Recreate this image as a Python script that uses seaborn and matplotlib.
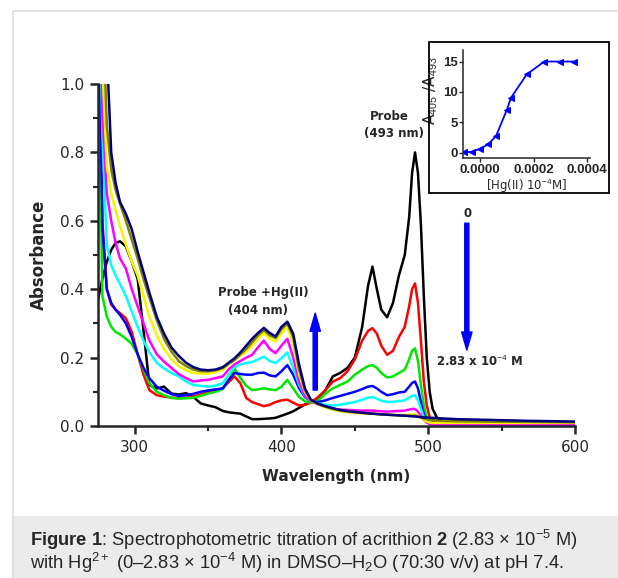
import numpy as np
import pandas as pd
import matplotlib
matplotlib.use("Agg")
import matplotlib.pyplot as plt
import seaborn as sns
from matplotlib.patches import Rectangle
from matplotlib.ticker import MultipleLocator, FormatStrFormatter

# wavelength grid (nm)
wavelength = [275, 278, 281, 284, 287, 290,
              294, 298, 302, 306, 310,
              315, 320, 325, 330, 335,
              340, 345, 350, 355, 360,
              364, 368, 372, 376, 380,
              384, 388, 392, 396, 400,
              404, 408, 412, 416, 420,
              425, 430, 435, 440, 445,
              450, 455, 459, 462, 465,
              468, 472, 476, 480, 484,
              487, 489, 491, 493, 495,
              497, 499, 501, 503, 506,
              510, 520, 540, 570, 600]

# absorbance for each Hg(II) addition (0 -> 2.83e-4 M)
abs_0 = [0.37, 0.43, 0.48, 0.515, 0.535, 0.54,
         0.525, 0.48, 0.43, 0.28, 0.12,
         0.11, 0.115, 0.095, 0.092, 0.096,
         0.085, 0.066, 0.06, 0.055, 0.044,
         0.04, 0.038, 0.036, 0.028, 0.02,
         0.02, 0.021, 0.022, 0.024, 0.03,
         0.036, 0.043, 0.053, 0.063, 0.07,
         0.077, 0.105, 0.145, 0.155, 0.17,
         0.20, 0.29, 0.41, 0.466, 0.40,
         0.34, 0.318, 0.36, 0.44, 0.50,
         0.61, 0.74, 0.80, 0.74, 0.59,
         0.38, 0.20, 0.10, 0.05, 0.024,
         0.015, 0.012, 0.01, 0.009, 0.008]
abs_1 = [1.3, 0.60, 0.40, 0.355, 0.34, 0.33,
         0.315, 0.275, 0.21, 0.15, 0.105,
         0.09, 0.086, 0.083, 0.081, 0.083,
         0.086, 0.092, 0.098, 0.104, 0.11,
         0.128, 0.145, 0.125, 0.082, 0.07,
         0.064, 0.058, 0.062, 0.07, 0.075,
         0.077, 0.068, 0.06, 0.062, 0.068,
         0.085, 0.105, 0.13, 0.14, 0.16,
         0.195, 0.25, 0.278, 0.286, 0.27,
         0.235, 0.208, 0.22, 0.26, 0.29,
         0.35, 0.40, 0.417, 0.36, 0.25,
         0.13, 0.06, 0.025, 0.012, 0.008,
         0.007, 0.006, 0.006, 0.005, 0.005]
abs_2 = [1.2, 0.38, 0.32, 0.29, 0.275, 0.268,
         0.255, 0.24, 0.21, 0.165, 0.125,
         0.1, 0.09, 0.082, 0.08, 0.081,
         0.083, 0.088, 0.095, 0.1, 0.108,
         0.133, 0.168, 0.14, 0.118, 0.105,
         0.107, 0.11, 0.107, 0.105, 0.115,
         0.135, 0.11, 0.085, 0.072, 0.068,
         0.075, 0.095, 0.11, 0.12, 0.13,
         0.15, 0.165, 0.175, 0.178, 0.17,
         0.155, 0.142, 0.145, 0.155, 0.165,
         0.195, 0.22, 0.227, 0.19, 0.12,
         0.06, 0.025, 0.01, 0.006, 0.005,
         0.005, 0.005, 0.005, 0.004, 0.004]
abs_3 = [1.4, 0.58, 0.40, 0.36, 0.34, 0.325,
         0.30, 0.26, 0.21, 0.17, 0.14,
         0.115, 0.103, 0.093, 0.088, 0.09,
         0.094, 0.1, 0.104, 0.107, 0.11,
         0.135, 0.155, 0.152, 0.15, 0.15,
         0.155, 0.156, 0.148, 0.145, 0.16,
         0.178, 0.15, 0.11, 0.085, 0.072,
         0.07, 0.075, 0.082, 0.088, 0.094,
         0.1, 0.108, 0.115, 0.117, 0.11,
         0.1, 0.09, 0.093, 0.098, 0.1,
         0.115, 0.126, 0.13, 0.11, 0.07,
         0.035, 0.015, 0.008, 0.006, 0.005,
         0.005, 0.005, 0.005, 0.004, 0.004]
abs_4 = [1.5, 0.85, 0.53, 0.47, 0.44, 0.415,
         0.38, 0.335, 0.29, 0.25, 0.215,
         0.185, 0.168, 0.155, 0.145, 0.13,
         0.12, 0.117, 0.115, 0.118, 0.125,
         0.15, 0.172, 0.18, 0.184, 0.187,
         0.195, 0.203, 0.19, 0.184, 0.198,
         0.215, 0.17, 0.12, 0.088, 0.072,
         0.066, 0.062, 0.06, 0.062, 0.066,
         0.07, 0.077, 0.083, 0.085, 0.08,
         0.074, 0.07, 0.071, 0.073, 0.075,
         0.083, 0.088, 0.09, 0.075, 0.05,
         0.025, 0.012, 0.006, 0.004, 0.004,
         0.004, 0.004, 0.004, 0.003, 0.003]
abs_5 = [1.6, 0.92, 0.68, 0.60, 0.535, 0.49,
         0.46, 0.40, 0.35, 0.30, 0.25,
         0.21, 0.188, 0.17, 0.152, 0.14,
         0.13, 0.133, 0.135, 0.14, 0.145,
         0.165, 0.18, 0.19, 0.2, 0.208,
         0.23, 0.25, 0.225, 0.213, 0.235,
         0.255, 0.2, 0.13, 0.09, 0.072,
         0.063, 0.057, 0.05, 0.048, 0.047,
         0.046, 0.045, 0.045, 0.045, 0.044,
         0.043, 0.042, 0.043, 0.044, 0.045,
         0.048, 0.05, 0.05, 0.042, 0.03,
         0.018, 0.01, 0.006, 0.004, 0.004,
         0.004, 0.004, 0.004, 0.003, 0.003]
abs_6 = [1.7, 1.05, 0.76, 0.68, 0.63, 0.585,
         0.53, 0.48, 0.44, 0.38, 0.32,
         0.265, 0.225, 0.195, 0.175, 0.163,
         0.155, 0.153, 0.153, 0.157, 0.164,
         0.18, 0.192, 0.205, 0.218, 0.235,
         0.255, 0.272, 0.255, 0.247, 0.27,
         0.29, 0.24, 0.15, 0.1, 0.074,
         0.063, 0.055, 0.048, 0.043, 0.04,
         0.038, 0.037, 0.036, 0.036, 0.035,
         0.034, 0.033, 0.033, 0.032, 0.032,
         0.033, 0.034, 0.034, 0.03, 0.024,
         0.018, 0.013, 0.01, 0.009, 0.009,
         0.009, 0.009, 0.009, 0.009, 0.009]
abs_7 = [1.9, 1.25, 0.88, 0.75, 0.69, 0.65,
         0.6, 0.545, 0.49, 0.43, 0.375,
         0.31, 0.255, 0.218, 0.19, 0.175,
         0.165, 0.16, 0.16, 0.163, 0.169,
         0.182, 0.193, 0.21, 0.225, 0.245,
         0.265, 0.28, 0.265, 0.257, 0.283,
         0.30, 0.26, 0.165, 0.105, 0.075,
         0.064, 0.056, 0.05, 0.045, 0.042,
         0.04, 0.038, 0.037, 0.036, 0.035,
         0.034, 0.033, 0.032, 0.031, 0.03,
         0.03, 0.03, 0.03, 0.028, 0.025,
         0.022, 0.02, 0.018, 0.017, 0.016,
         0.015, 0.014, 0.013, 0.012, 0.011]
abs_8 = [2.0, 1.5, 1.1, 0.80, 0.71, 0.655,
         0.62, 0.575, 0.51, 0.45, 0.39,
         0.32, 0.27, 0.23, 0.205, 0.185,
         0.172, 0.165, 0.163, 0.165, 0.172,
         0.185, 0.198, 0.215, 0.235, 0.255,
         0.272, 0.287, 0.272, 0.262, 0.29,
         0.305, 0.27, 0.18, 0.11, 0.077,
         0.065, 0.058, 0.052, 0.047, 0.044,
         0.041, 0.039, 0.037, 0.036, 0.035,
         0.034, 0.033, 0.032, 0.031, 0.03,
         0.029, 0.028, 0.028, 0.027, 0.026,
         0.025, 0.025, 0.024, 0.024, 0.023,
         0.022, 0.02, 0.018, 0.015, 0.013]

spectra = [abs_0, abs_1, abs_2, abs_3, abs_4, abs_5, abs_6, abs_7, abs_8]
steps = ['s0', 's1', 's2', 's3', 's4', 's5', 's6', 's7', 's8']
colors = ['#000000', '#ff0000', '#00e600', '#0000ff', '#00ffff',
          '#ff00ff', '#f5f500', '#808000', '#000080']

# inset: A405/A493 ratio vs [Hg(II)]
inset_hg = [-0.00006, -0.00003, 0.0, 0.00003, 0.00006, 0.0001,
            0.000116, 0.000175, 0.00024, 0.0003, 0.00035]
inset_ratio = [0.05, 0.15, 0.66, 1.37, 2.75, 7.03, 9.07, 12.9, 15.0, 15.0, 15.0]

sns.set_style("ticks")
plt.rcParams['font.family'] = ['DejaVu Sans']
plt.rcParams['mathtext.fontset'] = 'custom'
plt.rcParams['mathtext.rm'] = 'Liberation Sans'
plt.rcParams['mathtext.bf'] = 'Liberation Sans:bold'
plt.rcParams['mathtext.it'] = 'Liberation Sans:italic'

W, H = 618, 578
fig = plt.figure(figsize=(W / 100, H / 100), dpi=100)

# page frame and caption strip
fig.patches.append(Rectangle((13 / W, 0), 1.0, 62 / H, transform=fig.transFigure,
                             facecolor='#ebebeb', edgecolor='none', zorder=0))
fig.patches.append(Rectangle((13 / W, -0.05), 1.0, 1.05 - 11 / H, transform=fig.transFigure,
                             fill=False, edgecolor='#dcdcdc', lw=1.2, zorder=0))

# --- main spectra ---
ax = fig.add_axes([98 / W, 1 - 426 / H, 477 / W, 342 / H])
rows = []
for s, vals in zip(steps, spectra):
    for w, a in zip(wavelength, vals):
        rows.append((s, w, a))
df = pd.DataFrame(rows, columns=['step', 'wl', 'A'])
sns.lineplot(data=df, x='wl', y='A', hue='step', hue_order=steps, palette=colors,
             estimator=None, sort=False, lw=1.8, legend=False, ax=ax)

ax.set_xlim(275, 600)
ax.set_ylim(0, 1.0)
ax.xaxis.set_major_locator(MultipleLocator(100))
ax.xaxis.set_minor_locator(MultipleLocator(50))
ax.yaxis.set_major_locator(MultipleLocator(0.2))
ax.yaxis.set_minor_locator(MultipleLocator(0.1))
ax.yaxis.set_major_formatter(FormatStrFormatter('%.1f'))
sns.despine(ax=ax)
for sp in ['left', 'bottom']:
    ax.spines[sp].set_linewidth(1.8)
ax.tick_params(which='major', direction='out', length=6, width=1.8, labelsize=11, pad=4)
ax.tick_params(which='minor', direction='out', length=3.5, width=1.5)
ax.set_xlabel('Wavelength (nm)', fontsize=11, fontweight='bold')
ax.set_ylabel('Absorbance', fontsize=12, fontweight='bold')
ax.xaxis.set_label_coords(0.5, -0.125)
ax.yaxis.set_label_coords(-0.105, 0.5)

# annotations
ax.text(387.5, 0.389, 'Probe +Hg(II)', ha='center', va='center', fontsize=8.5, fontweight='bold')
ax.text(384, 0.339, '(404 nm)', ha='center', va='center', fontsize=8.5, fontweight='bold')
ax.text(473.3, 0.905, 'Probe', ha='center', va='center', fontsize=8.5, fontweight='bold')
ax.text(476.7, 0.854, '(493 nm)', ha='center', va='center', fontsize=8.5, fontweight='bold')
ax.text(526.7, 0.62, '0', ha='center', va='center', fontsize=8.5, fontweight='bold')
ax.text(505.3, 0.188, r'2.83 x 10$^{-4}$ M', ha='left', va='center', fontsize=8.5, fontweight='bold')

arrow_kw = dict(color='#0000ff', width=3, headwidth=7.5, headlength=13, shrink=0)
ax.annotate('', xy=(423, 0.33), xytext=(423, 0.105), arrowprops=arrow_kw)
ax.annotate('', xy=(526.3, 0.222), xytext=(526.3, 0.593), arrowprops=arrow_kw)

# --- inset ---
fig.patches.append(Rectangle((429 / W, 1 - 193 / H), 180 / W, 151 / H, transform=fig.transFigure,
                             fill=False, edgecolor='black', lw=1.3, zorder=5))
ins = fig.add_axes([463 / W, 1 - 158 / H, 127 / W, 108 / H])
ins.patch.set_alpha(0)
sns.lineplot(x=inset_hg, y=inset_ratio, ax=ins, color='#0000ff', lw=1.3,
             marker='<', markersize=4, markeredgecolor='#0000ff')
ins.set_xlim(-0.0000636, 0.000411)
ins.set_ylim(-0.87, 16.9)
ins.set_xticks([0, 0.0002, 0.0004])
ins.xaxis.set_major_formatter(FormatStrFormatter('%.4f'))
ins.set_yticks([0, 5, 10, 15])
sns.despine(ax=ins)
for sp in ['left', 'bottom']:
    ins.spines[sp].set_linewidth(1.1)
ins.tick_params(direction='out', length=3, width=1, pad=1)
for lab in ins.get_xticklabels() + ins.get_yticklabels():
    lab.set_fontfamily('Liberation Sans')
    lab.set_fontweight('bold')
    lab.set_fontsize(9.5)
ins.set_xlabel(r'[Hg(II) 10$^{-4}$M]', fontsize=8.5)
ins.set_ylabel(r'A$_{405}$ /A$_{493}$', fontsize=11)
ins.xaxis.set_label_coords(0.5, -0.17)
ins.yaxis.set_label_coords(-0.18, 0.62)

# --- caption ---
fig.text(30 / W, 1 - 540 / H,
         r'$\mathbf{Figure\ 1}$: Spectrophotometric titration of acrithion $\mathbf{2}$ (2.83 × 10$^{-5}$ M)',
         family='Liberation Sans', fontsize=13.2, va='center')
fig.text(30 / W, 1 - 563 / H,
         r'with Hg$^{2+}$ (0–2.83 × 10$^{-4}$ M) in DMSO–H$_2$O (70:30 v/v) at pH 7.4.',
         family='Liberation Sans', fontsize=13.2, va='center')

fig.savefig('out.png', dpi=100)
